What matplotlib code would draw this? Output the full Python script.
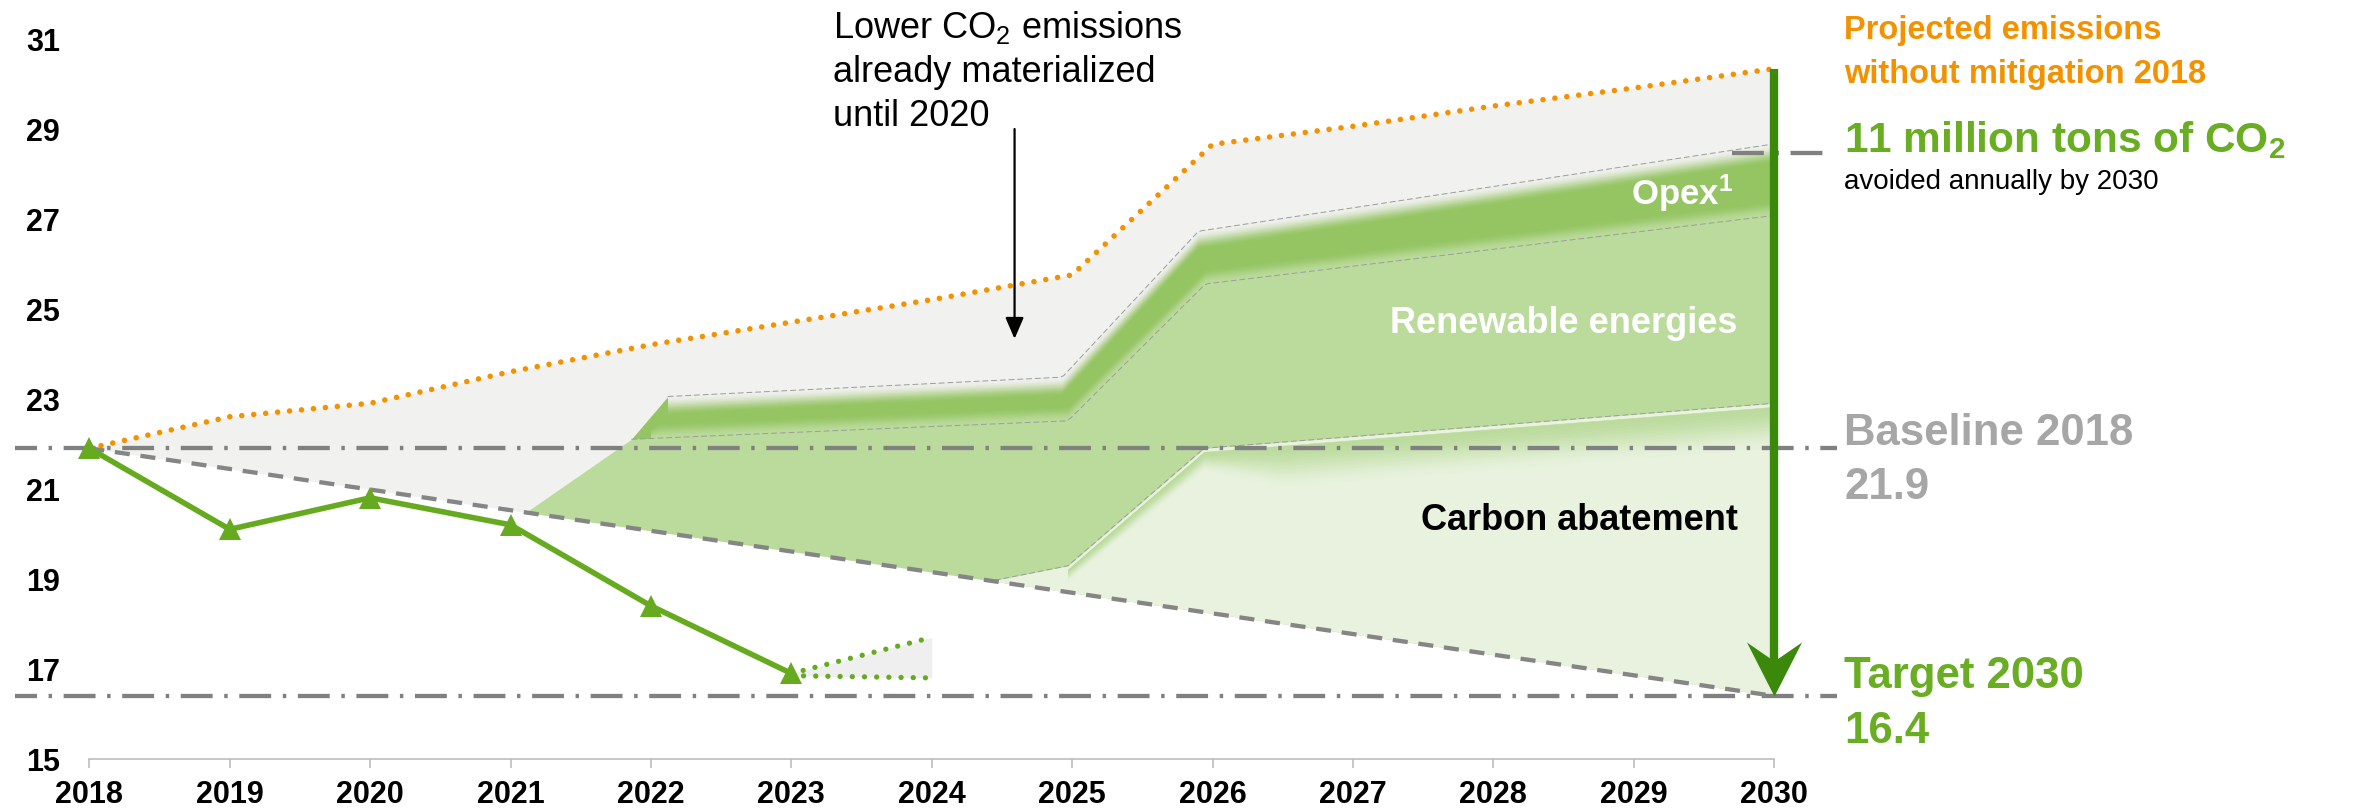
import numpy as np
import matplotlib
matplotlib.use("Agg")
import matplotlib.pyplot as plt
from matplotlib.path import Path
from matplotlib.colors import to_rgb

plt.rcParams['font.family'] = ['Liberation Sans', 'DejaVu Sans']
plt.rcParams['mathtext.fontset'] = 'custom'
plt.rcParams['mathtext.rm'] = 'Liberation Sans'
plt.rcParams['mathtext.it'] = 'Liberation Sans:italic'
plt.rcParams['mathtext.bf'] = 'Liberation Sans:bold'

# ---------------- data ----------------
years = [2018, 2019, 2020, 2021, 2022, 2023, 2024, 2025, 2026, 2027, 2028, 2029, 2030]
year_labels = [str(y) for y in years]
y_ticks = [15, 17, 19, 21, 23, 25, 27, 29, 31]
y_tick_labels = [str(v) for v in y_ticks]

actual_years = [2018, 2019, 2020, 2021, 2022, 2023]
actual_vals = [21.9, 20.1, 20.8, 20.2, 18.4, 16.9]

outlook_years = [2023, 2024]
outlook_high = [16.9, 17.7]
outlook_low = [16.85, 16.8]

projected_vals = [21.9, 22.6, 22.9, 23.6, 24.2, 24.7, 25.2, 25.75, 28.65, 29.05, 29.5, 29.9, 30.33]

baseline_2018 = 21.9
target_2030 = 16.4
avoided_level = 28.45

path_years = [2018, 2030]
path_vals = [21.9, 16.4]

opex_top_x = [2021.86, 2022.12, 2024.93, 2025.90, 2030.0]
opex_top_y = [22.10, 23.05, 23.48, 26.72, 28.66]
renew_top_x = [2021.12, 2021.86, 2024.97, 2025.95, 2030.0]
renew_top_y = [20.50, 22.10, 22.51, 25.55, 27.07]
abate_top_x = [2024.45, 2024.97, 2025.94, 2030.0]
abate_top_y = [18.97, 19.29, 21.90, 22.90]

# ---------------- colours ----------------
ORANGE = '#F39200'
GREEN = '#66AA20'
GREEN_TXT = '#69AD22'
DKGREEN = '#3A890B'
GRAYLINE = '#808080'
GRAYFILL = '#F1F1EF'
OPEX_C = '#95C563'
RENEW_C = '#BBDB9C'
ABATE_C = '#E8F2DE'

fig = plt.figure(figsize=(23.72, 8.12), dpi=100)
ax = fig.add_axes([0, 0, 1, 1])
ax.set_xlim(2017.364, 2034.258)
ax.set_ylim(13.845, 31.877)


def path_at(x):
    return np.interp(x, path_years, path_vals)


def fade(xs, y_from, y_to, c_from, c_to, n=30, z=2.5):
    a = np.array(to_rgb(c_from))
    b = np.array(to_rgb(c_to))
    for i in range(n):
        t0, t1 = i / n, (i + 1) / n
        s = (t0 + t1) / 2
        s = s * s * (3 - 2 * s)
        ya = y_from + (y_to - y_from) * t0
        yb = y_from + (y_to - y_from) * t1
        col = a + (b - a) * s
        ax.fill_between(xs, ya, yb, color=col, lw=0.4, edgecolor=col, zorder=z)


# gray area between target path and unmitigated projection
ax.fill_between(years, path_at(years), projected_vals, color=GRAYFILL, lw=0, zorder=1)

# renewable energies
xr = np.linspace(renew_top_x[0], 2030, 900)
ax.fill_between(xr, path_at(xr), np.interp(xr, renew_top_x, renew_top_y), color=RENEW_C, lw=0, zorder=2)
# opex
xo = np.linspace(opex_top_x[0], 2030, 900)
ax.fill_between(xo, np.interp(xo, renew_top_x, renew_top_y), np.interp(xo, opex_top_x, opex_top_y),
                color=OPEX_C, lw=0, zorder=2)
# carbon abatement
xc = np.linspace(abate_top_x[0], 2030, 900)
ax.fill_between(xc, path_at(xc), np.interp(xc, abate_top_x, abate_top_y), color=ABATE_C, lw=0, zorder=2)

# soft edges
xf = np.linspace(2022.12, 2030, 900)
O = np.interp(xf, opex_top_x, opex_top_y)
fade(xf, O, O - 0.42, GRAYFILL, OPEX_C)

xf = np.linspace(2022.0, 2030, 900)
R = np.interp(xf, renew_top_x, renew_top_y)
O = np.interp(xf, opex_top_x, opex_top_y)
top = np.minimum(R + 0.35, (R + O) / 2)
fade(xf, top, R, OPEX_C, RENEW_C)

xf = np.linspace(abate_top_x[1], 2030, 900)
C = np.interp(xf, abate_top_x, abate_top_y)
depth = np.interp(xf, [2024.97, 2025.94, 2026.5, 2030], [0.35, 0.5, 1.05, 1.05])
fade(xf, C - 0.08, np.maximum(C - depth, path_at(xf)), RENEW_C, ABATE_C)

# thin boundary lines
thin = dict(color='#9C9C9C', lw=0.7, ls=(0, (6, 3)), zorder=3)
xx = np.linspace(opex_top_x[1], 2030, 300)
ax.plot(xx, np.interp(xx, opex_top_x, opex_top_y), **thin)
xx = np.linspace(renew_top_x[1], 2030, 300)
ax.plot(xx, np.interp(xx, renew_top_x, renew_top_y), **thin)
xx = np.linspace(abate_top_x[0], 2030, 300)
ax.plot(xx, np.interp(xx, abate_top_x, abate_top_y), **thin)

# dash-dot reference lines
LW_DD = 3.1
dd = dict(color=GRAYLINE, lw=LW_DD, ls=(2.3, (7.4, 2.7, 0.8, 2.7)), dash_capstyle='butt', zorder=4)
ax.plot([2017.47, 2030.45], [baseline_2018, baseline_2018], **dd)
ax.plot([2017.47, 2030.45], [target_2030, target_2030], **dd)
ax.plot([2029.70, 2030.40], [avoided_level, avoided_level],
        color=GRAYLINE, lw=LW_DD, ls=(0, (7.4, 2.7, 0.8, 2.7)), dash_capstyle='butt', zorder=4)

# target path (dashed)
ax.plot(path_years, path_vals, color='#858585', lw=3.1, ls=(0, (3.5, 2.5)), zorder=4)

# projected emissions without mitigation (orange dotted)
ax.plot(years, projected_vals, color=ORANGE, lw=4.0, ls=(0, (0.01, 2.15)),
        dash_capstyle='round', zorder=5)

# outlook 2024
ax.fill_between(outlook_years, outlook_low, outlook_high, color='#EFEFEF', lw=0, zorder=1)
ax.plot(outlook_years, outlook_high, color=GREEN, lw=3.8, ls=(0, (0.01, 2.3)), dash_capstyle='round', zorder=5)
ax.plot(outlook_years, outlook_low, color=GREEN, lw=3.8, ls=(0, (0.01, 2.3)), dash_capstyle='round', zorder=5)

# actual emissions
ax.plot(actual_years, actual_vals, color=GREEN, lw=4.0, marker='^', ms=15.5, mew=0, zorder=6)

# big arrow 2030
ax.plot([2030, 2030], [projected_vals[-1], target_2030 + 0.6], color=DKGREEN, lw=6,
        solid_capstyle='butt', zorder=7)
head = Path([(0, 0), (27.5, 54), (0, 35), (-27.5, 54), (0, 0)],
            [Path.MOVETO, Path.LINETO, Path.LINETO, Path.LINETO, Path.CLOSEPOLY])
ax.plot([2030], [target_2030], marker=head, ms=77.8, color=DKGREEN, mew=0, ls='none', zorder=7)

# annotation arrow
ax.annotate('', xy=(2024.59, 24.33), xytext=(2024.59, 28.99),
            arrowprops=dict(arrowstyle='-|>,head_length=0.65,head_width=0.28', color='black',
                            lw=1.6, shrinkA=0, shrinkB=0, mutation_scale=20), zorder=8)
ax.text(2023.30, 31.04, r'Lower CO$_2$ emissions', fontsize=26, va='baseline', ha='left', zorder=8)
ax.text(2023.30, 30.06, 'already materialized', fontsize=26, va='baseline', ha='left', zorder=8)
ax.text(2023.30, 29.08, 'until 2020', fontsize=26, va='baseline', ha='left', zorder=8)

# right side texts
tx = 2030.5
ax.text(tx, 31.00, 'Projected emissions', color=ORANGE, fontsize=23.5, fontweight='bold', va='baseline')
ax.text(tx, 30.03, 'without mitigation 2018', color=ORANGE, fontsize=23.5, fontweight='bold', va='baseline')
ax.text(tx, 28.51, r'11 million tons of CO$_\mathbf{2}$', color=GREEN_TXT, fontsize=30.5,
        fontweight='bold', va='baseline')
ax.text(tx, 27.67, 'avoided annually by 2030', color='black', fontsize=20, va='baseline')
ax.text(tx, 21.99, 'Baseline 2018', color='#A6A6A6', fontsize=31.5, fontweight='bold', va='baseline')
ax.text(tx, 20.79, f'{baseline_2018}', color='#A6A6A6', fontsize=31.5, fontweight='bold', va='baseline')
ax.text(tx, 16.59, 'Target 2030', color=GREEN_TXT, fontsize=31.5, fontweight='bold', va='baseline')
ax.text(tx, 15.37, f'{target_2030}', color=GREEN_TXT, fontsize=31.5, fontweight='bold', va='baseline')

# in-area labels
ax.text(2029.71, 27.33, r'Opex$^\mathbf{1}$', color='white', fontsize=25, fontweight='bold', ha='right',
        va='baseline', zorder=8)
ax.text(2029.74, 24.48, 'Renewable energies', color='white', fontsize=26, fontweight='bold', ha='right',
        va='baseline', zorder=8)
ax.text(2029.745, 20.11, 'Carbon abatement', color='black', fontsize=26, fontweight='bold', ha='right',
        va='baseline', zorder=8)

# axes styling
for s in ['top', 'right']:
    ax.spines[s].set_visible(False)
ax.spines['left'].set_position(('data', 2017.79))
ax.spines['left'].set_visible(False)
ax.spines['bottom'].set_position(('data', 15))
ax.spines['bottom'].set_bounds(2018, 2030)
ax.spines['bottom'].set_color('#BDBDBD')
ax.spines['bottom'].set_linewidth(1.2)
ax.set_xticks(years, labels=year_labels)
ax.set_yticks(y_ticks, labels=y_tick_labels)
ax.tick_params(axis='x', length=6.5, width=1.2, color='#BDBDBD', pad=8, labelsize=22)
ax.tick_params(axis='y', length=0, pad=0, labelsize=22)
for lbl in ax.get_xticklabels() + ax.get_yticklabels():
    lbl.set_fontweight('bold')
ax.patch.set_alpha(0)

fig.savefig('out.png', dpi=100)
